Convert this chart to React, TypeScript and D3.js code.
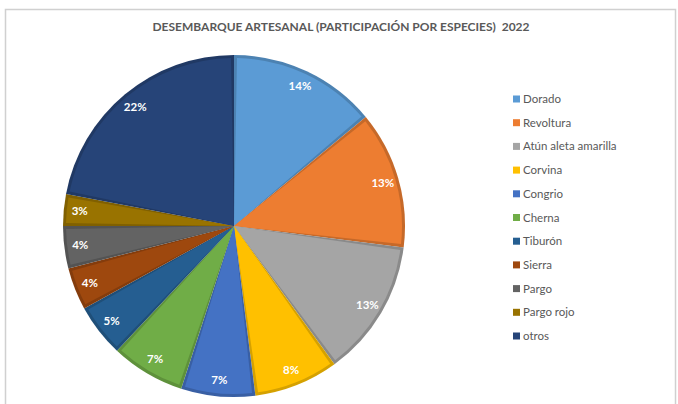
import React from "react";
import * as d3 from "d3";

const categories = ["Dorado", "Revoltura", "Atún aleta amarilla", "Corvina", "Congrio", "Cherna", "Tiburón", "Sierra", "Pargo", "Pargo rojo", "otros"];
const values = [14, 13, 13, 8, 7, 7, 5, 4, 4, 3, 22];
const labels = ["14%", "13%", "13%", "8%", "7%", "7%", "5%", "4%", "4%", "3%", "22%"];
const fills = ["#5B9BD5", "#ED7D31", "#A5A5A5", "#FFC000", "#4472C4", "#70AD47", "#255E91", "#9E480E", "#636363", "#997300", "#264478"];
const title = "DESEMBARQUE ARTESANAL (PARTICIPACIÓN POR ESPECIES)  2022";

export default function App() {
  const W = 678, H = 404;
  const cx = 234, cy = 226, r = 171;
  const pie = d3.pie<number>().sort(null).value((d) => d);
  const arcs = pie(values);
  const outer = d3.arc<d3.PieArcDatum<number>>().innerRadius(0).outerRadius(r);
  const inner = d3.arc<d3.PieArcDatum<number>>().innerRadius(0).outerRadius(r - 3).padRadius(100).padAngle(0.06);
  const labelArc = d3.arc<d3.PieArcDatum<number>>().innerRadius(155).outerRadius(155);
  const legendY = d3.scaleLinear().domain([0, categories.length - 1]).range([99, 336]);
  return (
    <svg width={W} height={H} style={{ position: "absolute", left: 0, top: 0 }}>
      <rect x={0} y={0} width={W} height={H} fill="#ffffff" />
      <rect x={5.5} y={9.5} width={670} height={420} fill="none" stroke="#d0d0d0" strokeWidth={1.5} />
      <text x={341} y={31} textAnchor="middle" fontFamily="Lato, 'Open Sans', sans-serif" fontWeight={700} fontSize={11.5} fill="#595959" textLength={377} lengthAdjust="spacingAndGlyphs" style={{ whiteSpace: "pre" }}>{title}</text>
      <g transform={`translate(${cx},${cy})`}>
        {arcs.map((a, i) => (
          <path key={"o" + i} d={outer(a) || ""} fill={d3.color(fills[i])!.darker(0.5).toString()} />
        ))}
        {arcs.map((a, i) => (
          <path key={"i" + i} d={inner(a) || ""} fill={fills[i]} />
        ))}
        {arcs.map((a, i) => {
          const [x, y] = labelArc.centroid(a);
          return (
            <text key={"l" + i} x={x} y={y} dy="0.35em" textAnchor="middle" fontFamily="Lato, 'Open Sans', sans-serif" fontWeight={700} fontSize={11.5} fill="#ffffff">{labels[i]}</text>
          );
        })}
      </g>
      {categories.map((c, i) => (
        <g key={"lg" + i} transform={`translate(513,${legendY(i)})`}>
          <rect x={0} y={-3.5} width={7} height={7} fill={fills[i]} />
          <text x={10} y={0} dy="0.35em" fontFamily="Lato, 'Open Sans', sans-serif" fontSize={11.5} fill="#595959">{c}</text>
        </g>
      ))}
    </svg>
  );
}
